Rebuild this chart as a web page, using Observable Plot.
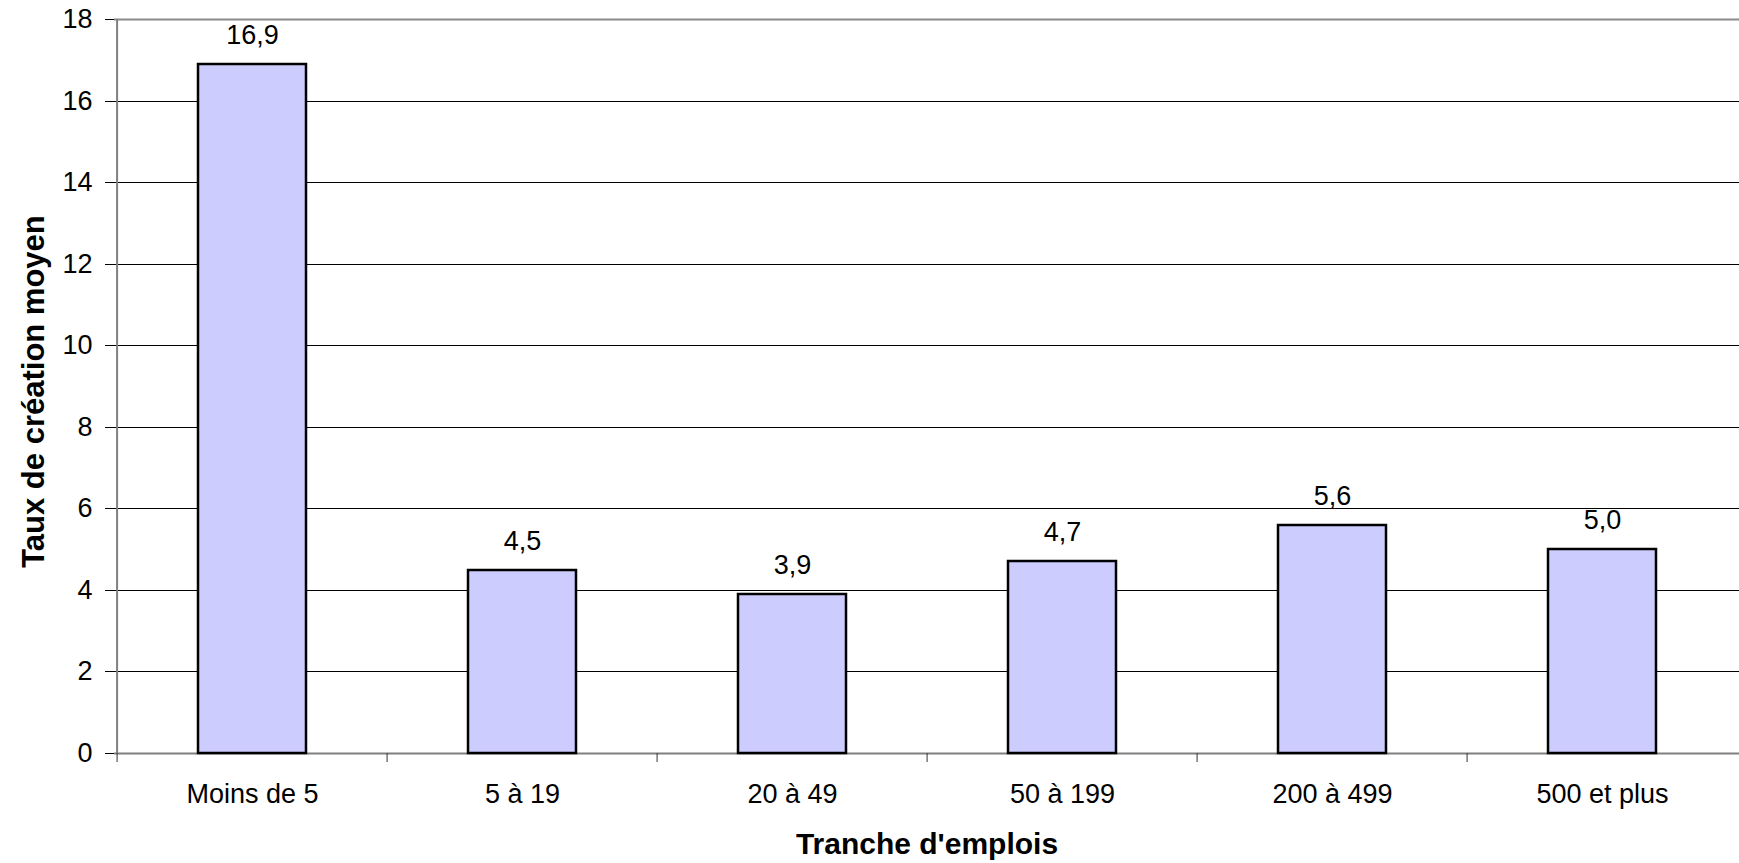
<!DOCTYPE html>
<html>
<head>
<meta charset="utf-8">
<script src="https://cdn.jsdelivr.net/npm/d3@7"></script>
<script src="https://cdn.jsdelivr.net/npm/@observablehq/plot@0.6"></script>
<style>
  html, body { margin: 0; padding: 0; background: #fff; }
</style>
</head>
<body>
<div id="chart"></div>
<script>
const categories = ["Moins de 5", "5 à 19", "20 à 49", "50 à 199", "200 à 499", "500 et plus"];
const values = [16.9, 4.5, 3.9, 4.7, 5.6, 5.0];
const yTicks = [0, 2, 4, 6, 8, 10, 12, 14, 16, 18];
const xTitle = "Tranche d'emplois";
const yTitle = "Taux de création moyen";

const data = categories.map((c, i) => ({cat: c, value: values[i]}));
const fmt = v => d3.format(".1f")(v).replace(".", ",");

const W = 1739, H = 863, mL = 114, mR = 0, mT = 19, mB = 110;
const half = (W - mL - mR) / categories.length / 2;
const font = "'Liberation Sans', Arial, sans-serif";

const chart = Plot.plot({
  width: W, height: H,
  marginLeft: mL, marginRight: mR, marginTop: mT, marginBottom: mB,
  style: {fontFamily: font, fontSize: "27px", color: "#000", background: "#fff"},
  x: {domain: categories, paddingInner: 0.6, paddingOuter: 0.3, axis: null},
  y: {domain: [0, 18], axis: null, round: true},
  marks: [
    Plot.gridY(yTicks.slice(1, -1), {stroke: "#000", strokeOpacity: 1, strokeWidth: 1}),
    Plot.ruleY([18], {stroke: "#8a8a8a", strokeWidth: 2}),
    Plot.ruleY([0], {stroke: "#808080", strokeWidth: 2}),
    Plot.ruleX([categories[0]], {y1: 0, y2: 18, dx: -half, stroke: "#808080", strokeWidth: 2}),
    Plot.axisY({ticks: yTicks, tickSize: 9, tickPadding: 13, fontSize: 27, label: null, tickFormat: d => String(d)}),
    Plot.axisX({tickSize: 9, dx: -half, text: null, label: null, stroke: "#333"}),
    Plot.axisX({tickSize: 0, tickPadding: 30, label: null, fontSize: 27}),
    Plot.barY(data, {x: "cat", y: "value", fill: "#CCCCFF", stroke: "#000", strokeWidth: 2.5}),
    Plot.text(data, {x: "cat", y: "value", text: d => fmt(d.value), dy: -21, lineAnchor: "bottom", fontSize: 27, fill: "#000"}),
    Plot.text([xTitle], {text: d => d, frameAnchor: "bottom", dy: 100, lineAnchor: "bottom", textAnchor: "middle", fontWeight: "bold", fontSize: 30, fill: "#000"}),
    Plot.text([yTitle], {text: d => d, frameAnchor: "left", dx: -80, dy: 5, rotate: -90, textAnchor: "middle", fontWeight: "bold", fontSize: 31, fill: "#000"})
  ]
});
document.getElementById("chart").appendChild(chart);
</script>
</body>
</html>
